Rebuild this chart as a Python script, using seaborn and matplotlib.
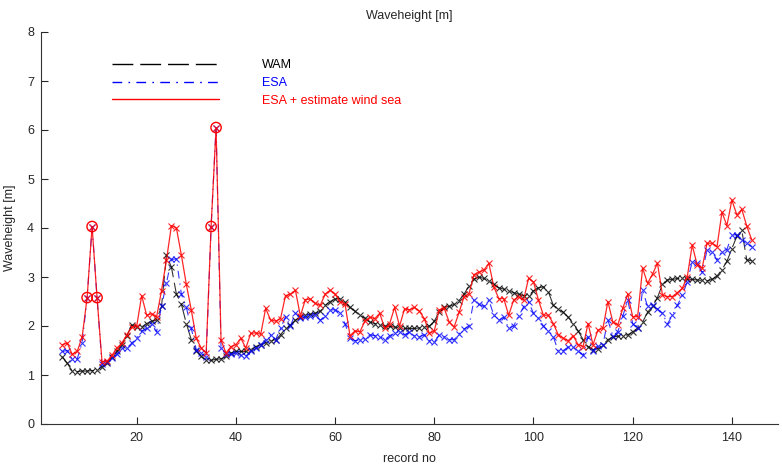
import numpy as np
import pandas as pd
import matplotlib
matplotlib.use("Agg")
import matplotlib.pyplot as plt
from matplotlib.lines import Line2D
import seaborn as sns

# ---------------- data (records 5..144) ----------------
record_start = 5

wam = [
    1.37, 1.24, 1.08, 1.07, 1.08, 1.08, 1.09, 1.10, 1.17, 1.25,   # 5-14
    1.37, 1.48, 1.62, 1.80, 2.02, 1.98, 1.98, 2.05, 2.10, 2.12,   # 15-24
    2.40, 3.45, 3.20, 2.65, 2.45, 2.05, 1.72, 1.50, 1.38, 1.30,   # 25-34
    1.30, 1.32, 1.33, 1.38, 1.45, 1.48, 1.48, 1.48, 1.52, 1.58,   # 35-44
    1.62, 1.66, 1.70, 1.72, 1.82, 1.95, 2.02, 2.12, 2.18, 2.22,   # 45-54
    2.24, 2.26, 2.30, 2.42, 2.50, 2.55, 2.56, 2.48, 2.38, 2.30,   # 55-64
    2.22, 2.16, 2.08, 2.05, 2.03, 2.00, 1.99, 1.98, 1.96, 1.95,   # 65-74
    1.95, 1.95, 1.96, 1.97, 2.00, 2.10, 2.28, 2.38, 2.40, 2.44,   # 75-84
    2.52, 2.65, 2.82, 2.96, 3.00, 2.97, 2.92, 2.85, 2.78, 2.75,   # 85-94
    2.72, 2.68, 2.65, 2.62, 2.62, 2.72, 2.78, 2.80, 2.70, 2.42,   # 95-104
    2.35, 2.28, 2.18, 2.05, 1.90, 1.72, 1.58, 1.52, 1.54, 1.62,   # 105-114
    1.72, 1.78, 1.79, 1.80, 1.82, 1.88, 1.96, 2.08, 2.28, 2.40,   # 115-124
    2.58, 2.85, 2.94, 2.95, 2.97, 2.97, 2.96, 2.95, 2.94, 2.93,   # 125-134
    2.92, 2.95, 3.02, 3.15, 3.32, 3.58, 3.83, 3.95, 3.35, 3.33,   # 135-144
]

esa = [
    1.48, 1.50, 1.32, 1.33, 1.65, 2.58, 4.03, 2.58, 1.22, 1.27,   # 5-14
    1.35, 1.42, 1.55, 1.55, 1.65, 1.75, 1.90, 1.95, 2.05, 1.88,   # 15-24
    2.40, 2.88, 3.36, 3.37, 2.65, 2.38, 1.95, 1.52, 1.45, 1.36,   # 25-34
    4.03, 6.05, 1.55, 1.42, 1.42, 1.45, 1.40, 1.38, 1.50, 1.55,   # 35-44
    1.62, 1.72, 1.82, 1.72, 1.95, 2.19, 2.00, 2.26, 2.16, 2.18,   # 45-54
    2.20, 2.22, 2.12, 2.20, 2.33, 2.33, 2.26, 2.05, 1.75, 1.70,   # 55-64
    1.72, 1.74, 1.82, 1.80, 1.78, 1.72, 1.80, 1.86, 1.88, 1.82,   # 65-74
    1.88, 1.80, 1.78, 1.82, 1.70, 1.67, 1.82, 1.78, 1.72, 1.72,   # 75-84
    1.84, 1.94, 2.00, 2.53, 2.44, 2.40, 2.53, 2.22, 2.12, 2.18,   # 85-94
    1.95, 2.00, 2.20, 2.39, 2.49, 2.26, 2.16, 2.00, 1.90, 1.78,   # 95-104
    1.48, 1.50, 1.57, 1.57, 1.50, 1.40, 1.78, 1.50, 1.60, 1.62,   # 105-114
    2.12, 1.80, 1.88, 2.20, 2.53, 2.05, 1.95, 2.73, 2.40, 2.43,   # 115-124
    2.35, 2.26, 2.04, 2.22, 2.42, 2.63, 2.90, 3.31, 3.28, 3.10,   # 125-134
    3.55, 3.52, 3.35, 3.52, 3.56, 3.86, 3.86, 3.76, 3.70, 3.62,   # 135-144
]

esa_wind = [
    1.62, 1.65, 1.42, 1.48, 1.78, 2.58, 4.03, 2.58, 1.27, 1.28,   # 5-14
    1.40, 1.55, 1.65, 1.82, 1.98, 2.00, 2.62, 2.22, 2.25, 2.18,   # 15-24
    2.72, 3.35, 4.05, 4.00, 3.45, 2.85, 2.33, 1.75, 1.55, 1.45,   # 25-34
    4.03, 6.05, 1.71, 1.45, 1.58, 1.62, 1.75, 1.55, 1.85, 1.86,   # 35-44
    1.83, 2.36, 2.12, 2.10, 2.15, 2.62, 2.65, 2.73, 2.20, 2.54,   # 45-54
    2.55, 2.46, 2.42, 2.65, 2.73, 2.65, 2.50, 2.45, 1.80, 1.90,   # 55-64
    1.88, 2.10, 2.18, 2.15, 2.26, 1.95, 2.05, 2.38, 2.00, 2.35,   # 65-74
    2.33, 2.38, 2.30, 2.15, 1.85, 1.90, 2.33, 2.36, 2.08, 1.98,   # 75-84
    2.28, 2.60, 2.66, 3.05, 3.10, 3.14, 3.28, 2.80, 2.56, 2.56,   # 85-94
    2.22, 2.53, 2.60, 2.53, 2.97, 2.90, 2.53, 2.22, 2.22, 2.05,   # 95-104
    1.82, 1.75, 1.70, 1.80, 1.62, 1.58, 2.05, 1.62, 1.92, 1.95,   # 105-114
    2.50, 2.08, 2.02, 2.36, 2.65, 2.19, 2.19, 3.18, 2.87, 3.06,   # 115-124
    3.28, 2.63, 2.60, 2.60, 2.68, 2.77, 3.00, 3.65, 3.25, 3.18,   # 125-134
    3.69, 3.69, 3.62, 4.32, 4.05, 4.57, 4.27, 4.38, 4.04, 3.76,   # 135-144
]

circled_records = [10, 11, 12, 35, 36]

labels = ["WAM", "ESA", "ESA + estimate wind sea"]
colors = ["#000000", "#0000ff", "#ff0000"]
x_ticks = [20, 40, 60, 80, 100, 120, 140]
y_ticks = [0, 1, 2, 3, 4, 5, 6, 7, 8]

# ---------------- plotting ----------------
records = np.arange(record_start, record_start + len(wam))
df = pd.DataFrame({"record": records, "WAM": wam, "ESA": esa, "ESAW": esa_wind})
circ = df[df["record"].isin(circled_records)]

sns.set_theme(style="ticks")
plt.rcParams["font.family"] = ["Liberation Sans", "DejaVu Sans"]
plt.rcParams["font.size"] = 9

fig = plt.figure(figsize=(7.82, 4.66), dpi=100)
ax = fig.add_axes([41 / 782, 1 - 424 / 466, (778 - 41) / 782, (424 - 32) / 466])

ls_wam = (0, (15, 5))
ls_esa = (0, (7, 4.5, 1.2, 4.5))

sns.lineplot(data=df, x="record", y="WAM", ax=ax, color=colors[0], lw=0.8,
             linestyle=ls_wam, marker="x", markersize=5, markeredgewidth=0.8,
             markeredgecolor=colors[0], alpha=0.8)
sns.lineplot(data=df, x="record", y="ESA", ax=ax, color=colors[1], lw=0.8,
             linestyle=ls_esa, marker="x", markersize=5, markeredgewidth=0.8,
             markeredgecolor=colors[1], alpha=0.8)
sns.lineplot(data=df, x="record", y="ESAW", ax=ax, color=colors[2], lw=0.9,
             linestyle="-", marker="x", markersize=5, markeredgewidth=0.8,
             markeredgecolor=colors[2], alpha=0.85)
sns.scatterplot(data=circ, x="record", y="ESAW", ax=ax, marker="o", s=55,
                facecolor="none", edgecolor=colors[2], linewidth=1.0, zorder=5)

ax.set_xlim(0.7, 149.3)
ax.set_ylim(0, 8)
ax.set_xticks(x_ticks)
ax.set_yticks(y_ticks)
ax.tick_params(direction="in", length=5, width=0.8, labelsize=9)
ax.tick_params(axis="x", pad=6)
ax.tick_params(axis="y", pad=5)
for s in ["left", "bottom"]:
    ax.spines[s].set_linewidth(0.8)
    ax.spines[s].set_color("#333333")
sns.despine(ax=ax)

ax.set_title("Waveheight [m]", fontsize=9, pad=9)
ax.set_xlabel("record no", fontsize=9, labelpad=6)
ax.set_ylabel("Waveheight [m]", fontsize=9, labelpad=8)

handles = [
    Line2D([], [], color=colors[0], lw=1.0, linestyle=ls_wam),
    Line2D([], [], color=colors[1], lw=1.0, linestyle=ls_esa),
    Line2D([], [], color=colors[2], lw=1.0, linestyle="-"),
]
leg = ax.legend(handles, labels, loc="upper left", bbox_to_anchor=(0.096, 0.93),
                frameon=False, handlelength=8.6, handletextpad=3.4,
                labelspacing=0.45, borderpad=0, borderaxespad=0, fontsize=9)
for t, c in zip(leg.get_texts(), colors):
    t.set_color(c)

fig.savefig("out.png", dpi=100)
